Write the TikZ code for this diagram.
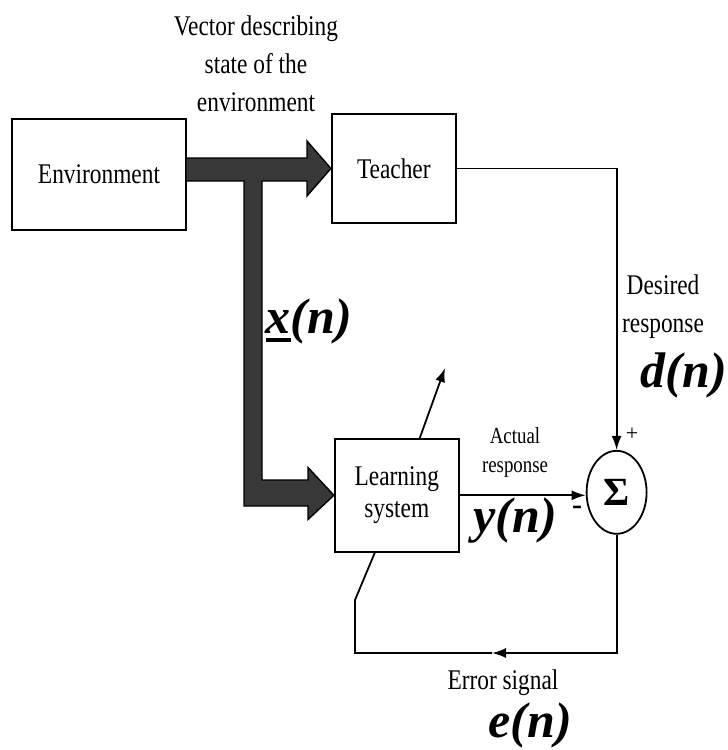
\documentclass[tikz,border=0pt]{standalone}
\usepackage{fontspec}
\setmainfont[FakeStretch=0.82]{Liberation Serif}
\newfontfamily\plainserif{Liberation Serif}
\usetikzlibrary{positioning, shapes.geometric, arrows.meta, calc}
\newcommand{\ulvec}[1]{\setbox0\hbox{#1}\rlap{\rule[-9pt]{\wd0}{4.5pt}}#1}

\begin{document}
\begin{tikzpicture}[
    x=1pt, y=1pt,
    block_box/.style={rectangle, draw=black, line width=1.8pt, inner sep=0pt, align=center, font=\fontsize{28.5}{32}\selectfont},
    sum_node/.style={ellipse, draw=black, line width=1.8pt, minimum width=60pt, minimum height=83pt, inner sep=0pt, font=\plainserif\fontsize{40}{40}\selectfont\bfseries},
    txt_label/.style={align=center, font=\fontsize{28.5}{38}\selectfont},
    sig_label/.style={inner sep=0pt, font=\plainserif\fontsize{50}{50}\selectfont\bfseries\itshape},
    arrow/.style={-{Latex[length=14pt, width=10pt]}, line width=1.8pt},
    wire/.style={line width=1.8pt},
    fat_arrow/.style={draw=black, line width=1.4pt, fill=black!78}
]
    \useasboundingbox (0,0) rectangle (728,-750);

    % Nodes
    \node[block_box, minimum width=174pt, minimum height=111pt] (env) at (99,-174.5) {Environment};
    \node[block_box, minimum width=124pt, minimum height=109pt, right=144pt of env, yshift=6pt] (teacher) {Teacher};
    \node[block_box, minimum width=124pt, minimum height=113pt, below=214pt of teacher, xshift=3pt] (learner) {Learning\\system};
    \node[sum_node, right=126pt of learner, yshift=3pt] (summer) {Σ};

    \coordinate (adjust) at (445,-368);
    \coordinate (err_turn) at (492,-653);
    \coordinate (err_up) at (355,-600);

    % Labels
    \node[txt_label] (vec_lbl) at (256,-64) {Vector describing\\state of the\\environment};
    \node[sig_label] (x_lbl) at (309,-321) {\ulvec{x}(n)};
    \node[txt_label] (des_lbl) at (663,-307) {Desired\\response};
    \node[sig_label] (d_lbl) at (684,-375) {d(n)};
    \node[txt_label, font=\fontsize{23}{29}\selectfont] (act_lbl) at (515,-452) {Actual\\response};
    \node[sig_label] (y_lbl) at (515,-521) {y(n)};
    \node[font=\plainserif\fontsize{22}{22}\selectfont] (plus_lbl) at (632,-434) {+};
    \node[font=\plainserif\fontsize{30}{30}\selectfont\bfseries] (minus_lbl) at (577,-510) {-};
    \node[txt_label] (err_lbl) at (503,-683) {Error signal};
    \node[sig_label] (e_lbl) at (530,-725) {e(n)};

    % Arrows
    \draw[fat_arrow] (186,-158) -- (307,-158) -- (307,-141) -- (teacher.west) -- (307,-196) -- (307,-181)
        -- (262,-181) -- (262,-480) -- (308,-480) -- (308,-467.5) -- (learner.west) -- (308,-519.5)
        -- (308,-506) -- (244,-506) -- (244,-181) -- (186,-181) -- cycle;
    \draw[arrow] (teacher.east) -| (summer.north);
    \draw[arrow] (learner.east) -- (learner.east -| summer.west);
    \draw[arrow] ($(learner.north)+(23,0)$) -- (adjust);
    \draw[arrow] (summer.south) |- (err_turn);
    \draw[wire] (err_turn) -| (err_up) -- ($(learner.south)+(-22,0)$);
\end{tikzpicture}
\end{document}
